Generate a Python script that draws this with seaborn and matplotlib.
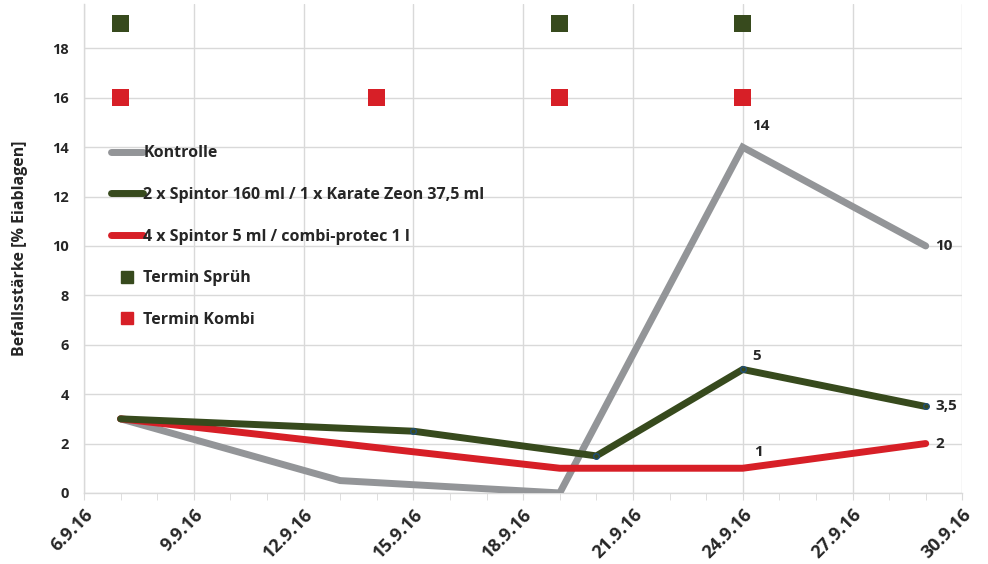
import pandas as pd
import numpy as np
import matplotlib
matplotlib.use('Agg')
import matplotlib.pyplot as plt
import matplotlib.dates as mdates
from matplotlib.lines import Line2D
import seaborn as sns

# Befall data (September 2016)
kontrolle_dates = ['2016-09-07', '2016-09-13', '2016-09-19', '2016-09-24', '2016-09-29']
kontrolle_vals = [3, 0.5, 0, 14, 10]

spruh_dates = ['2016-09-07', '2016-09-15', '2016-09-20', '2016-09-24', '2016-09-29']
spruh_vals = [3, 2.5, 1.5, 5, 3.5]

kombi_dates = ['2016-09-07', '2016-09-19', '2016-09-24', '2016-09-29']
kombi_vals = [3, 1, 1, 2]

termin_spruh_dates = ['2016-09-07', '2016-09-19', '2016-09-24']
termin_spruh_level = [19, 19, 19]
termin_kombi_dates = ['2016-09-07', '2016-09-14', '2016-09-19', '2016-09-24']
termin_kombi_level = [16, 16, 16, 16]

labels = ['Kontrolle', '2 x Spintor 160 ml / 1 x Karate Zeon 37,5 ml',
          '4 x Spintor 5 ml / combi-protec 1 l', 'Termin Sprüh', 'Termin Kombi']

GRAY = '#939598'
GREEN = '#374a1d'
RED = '#d71f27'
TXT = '#262626'

sns.set_style('white')
plt.rcParams['font.family'] = ['Open Sans', 'DejaVu Sans']
plt.rcParams['font.weight'] = 'bold'

fig = plt.figure(figsize=(9.88, 5.64), dpi=100)
ax = fig.add_axes([0.085, 0.126, 0.889, 0.867])

df_k = pd.DataFrame({'date': pd.to_datetime(kontrolle_dates), 'val': kontrolle_vals})
df_s = pd.DataFrame({'date': pd.to_datetime(spruh_dates), 'val': spruh_vals})
df_c = pd.DataFrame({'date': pd.to_datetime(kombi_dates), 'val': kombi_vals})
df_ts = pd.DataFrame({'date': pd.to_datetime(termin_spruh_dates), 'val': termin_spruh_level})
df_tk = pd.DataFrame({'date': pd.to_datetime(termin_kombi_dates), 'val': termin_kombi_level})

sns.lineplot(data=df_k, x='date', y='val', ax=ax, color=GRAY, lw=5, zorder=3,
             solid_capstyle='round', solid_joinstyle='miter')
sns.lineplot(data=df_c, x='date', y='val', ax=ax, color=RED, lw=5, zorder=4,
             solid_capstyle='round', solid_joinstyle='miter')
sns.lineplot(data=df_s, x='date', y='val', ax=ax, color=GREEN, lw=5, zorder=5,
             solid_capstyle='round', solid_joinstyle='miter')
ax.plot(df_s['date'].iloc[1:], df_s['val'].iloc[1:], ls='none', marker='o', ms=4,
        mfc='none', mec='#1f4e79', mew=1, zorder=6)

sns.scatterplot(data=df_ts, x='date', y='val', ax=ax, marker='s', s=150,
                color=GREEN, edgecolor='none', zorder=5)
sns.scatterplot(data=df_tk, x='date', y='val', ax=ax, marker='s', s=150,
                color=RED, edgecolor='none', zorder=5)

# data labels
lab_kw = dict(textcoords='offset points', fontsize=11, fontweight='bold', color=TXT)
ax.annotate('14', (df_k['date'][3], 14), xytext=(7, 10), ha='left', va='bottom', **lab_kw)
ax.annotate('10', (df_k['date'][4], 10), xytext=(7, 0), ha='left', va='center', **lab_kw)
ax.annotate('5', (df_s['date'][3], 5), xytext=(7, 5), ha='left', va='bottom', **lab_kw)
ax.annotate('3,5', (df_s['date'][4], 3.5), xytext=(7, 0), ha='left', va='center', **lab_kw)
ax.annotate('1', (df_c['date'][2], 1), xytext=(8, 7), ha='left', va='bottom', **lab_kw)
ax.annotate('2', (df_c['date'][3], 2), xytext=(7, 0), ha='left', va='center', **lab_kw)

# axes
ax.set_xlim(pd.Timestamp('2016-09-06'), pd.Timestamp('2016-09-30'))
ax.set_ylim(0, 19.8)
ax.set_yticks(np.arange(0, 19, 2))
ax.xaxis.set_major_locator(mdates.DayLocator(bymonthday=[6, 9, 12, 15, 18, 21, 24, 27, 30]))
ax.xaxis.set_minor_locator(mdates.DayLocator())
ax.xaxis.set_major_formatter(plt.FuncFormatter(
    lambda v, p: (lambda d: f'{d.day}.{d.month}.{d:%y}')(mdates.num2date(v))))
ax.grid(True, which='major', color='#d9d9d9', lw=1)
ax.set_axisbelow(True)
for s in ['top', 'right']:
    ax.spines[s].set_visible(False)
for s in ['left', 'bottom']:
    ax.spines[s].set_color('#d9d9d9')
    ax.spines[s].set_linewidth(1)
ax.tick_params(axis='x', which='both', direction='out', length=5, color='#d9d9d9',
               bottom=True, labelsize=13, labelcolor=TXT, pad=4)
ax.tick_params(axis='y', length=0, labelsize=10.5, labelcolor=TXT, pad=11)
for t in ax.get_xticklabels():
    t.set_rotation(45)
    t.set_ha('right')
    t.set_rotation_mode('anchor')
    t.set_fontweight('bold')
for t in ax.get_yticklabels():
    t.set_fontweight('bold')
ax.set_xlabel('')
ax.set_ylabel('Befallsstärke [% Eiablagen]', fontsize=11.5, fontweight='bold', color=TXT, labelpad=17)

handles = [
    Line2D([], [], color=GRAY, lw=5, solid_capstyle='round'),
    Line2D([], [], color=GREEN, lw=5, solid_capstyle='round'),
    Line2D([], [], color=RED, lw=5, solid_capstyle='round'),
    Line2D([], [], color=GREEN, ls='none', marker='s', ms=9),
    Line2D([], [], color=RED, ls='none', marker='s', ms=9),
]
leg = ax.legend(handles, labels, loc='upper left', bbox_to_anchor=(0.014, 0.74),
                frameon=False, handlelength=2.0, handletextpad=0.05,
                labelspacing=1.6, prop={'weight': 'bold', 'size': 11.5})
for t in leg.get_texts():
    t.set_color(TXT)

plt.savefig('out.png', dpi=100)
